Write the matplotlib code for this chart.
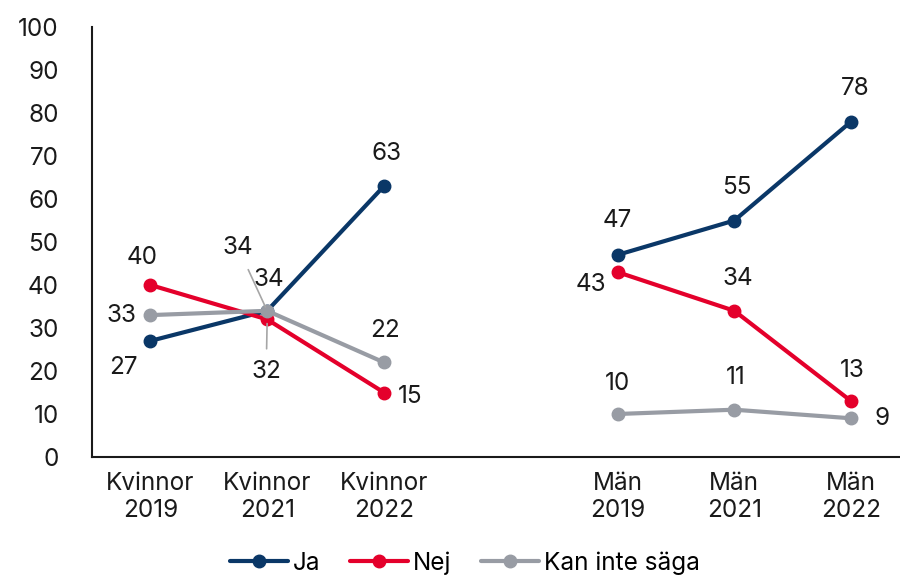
import numpy as np
import matplotlib
matplotlib.use("Agg")
import matplotlib.pyplot as plt

plt.rcParams["font.family"] = ["Inter", "DejaVu Sans"]

categories = ["Kvinnor\n2019", "Kvinnor\n2021", "Kvinnor\n2022", "",
              "Män\n2019", "Män\n2021", "Män\n2022"]
ja = [27, 34, 63, np.nan, 47, 55, 78]
nej = [40, 32, 15, np.nan, 43, 34, 13]
kan = [33, 34, 22, np.nan, 10, 11, 9]

series = [
    ("Ja", ja, "#0a3767"),
    ("Nej", nej, "#e4002b"),
    ("Kan inte säga", kan, "#989ca4"),
]

# etikettförskjutningar i pixlar (dx, dy) per punkt
offsets = {
    "Ja": [(-27, -27), (-29, 63), (3, 33), None, (0, 34), (2, 33), (4, 33)],
    "Nej": [(-8, 27), (-1, -52), (26, -4), None, (-27, -12), (3, 32), (1, 31)],
    "Kan inte säga": [(-29, 0), (2, 31), (1, 32), None, (0, 31), (1, 32), (31, 0)],
}
leaders = {("Ja", 1), ("Nej", 1)}
FS = 17.5

fig = plt.figure(figsize=(9, 5.76), dpi=100)
ax = fig.add_axes([92 / 900, 119 / 576, 817.5 / 900, 430 / 576])

x = np.arange(len(categories))
for name, vals, color in series:
    ax.plot(x, vals, color=color, lw=3, marker="o", markersize=9,
            solid_capstyle="round", label=name)
    for i, v in enumerate(vals):
        if np.isnan(v):
            continue
        dx, dy = offsets[name][i]
        if (name, i) in leaders:
            ax.annotate(f"{v:g}", (i, v), xytext=(dx, dy), textcoords="offset pixels",
                        ha="center", va="center", fontsize=FS, color="#1a1a1a",
                        arrowprops=dict(arrowstyle="-", color="#a6a6a6", lw=1.2,
                                        shrinkA=6, shrinkB=3))
        else:
            ax.annotate(f"{v:g}", (i, v), xytext=(dx, dy), textcoords="offset pixels",
                        ha="center", va="center", fontsize=FS, color="#1a1a1a")

ax.set_ylim(0, 100)
ax.set_xlim(-0.5, 6.5)
ax.set_yticks(range(0, 101, 10))
ax.set_xticks(x)
ax.set_xticklabels(categories, linespacing=1.2)
ax.tick_params(axis="y", length=0, pad=24, labelsize=FS, colors="#1a1a1a")
ax.tick_params(axis="x", length=0, pad=11, labelsize=FS, colors="#1a1a1a")
for s in ["top", "right"]:
    ax.spines[s].set_visible(False)
for s in ["left", "bottom"]:
    ax.spines[s].set_linewidth(1.5)
    ax.spines[s].set_color("#1a1a1a")

fig.legend(loc="center", bbox_to_anchor=(465 / 900, 1 - 563 / 576), ncol=3,
           frameon=False, fontsize=FS, handlelength=2.4, handletextpad=0.2,
           columnspacing=1.2)

fig.savefig("out.png", dpi=100)
